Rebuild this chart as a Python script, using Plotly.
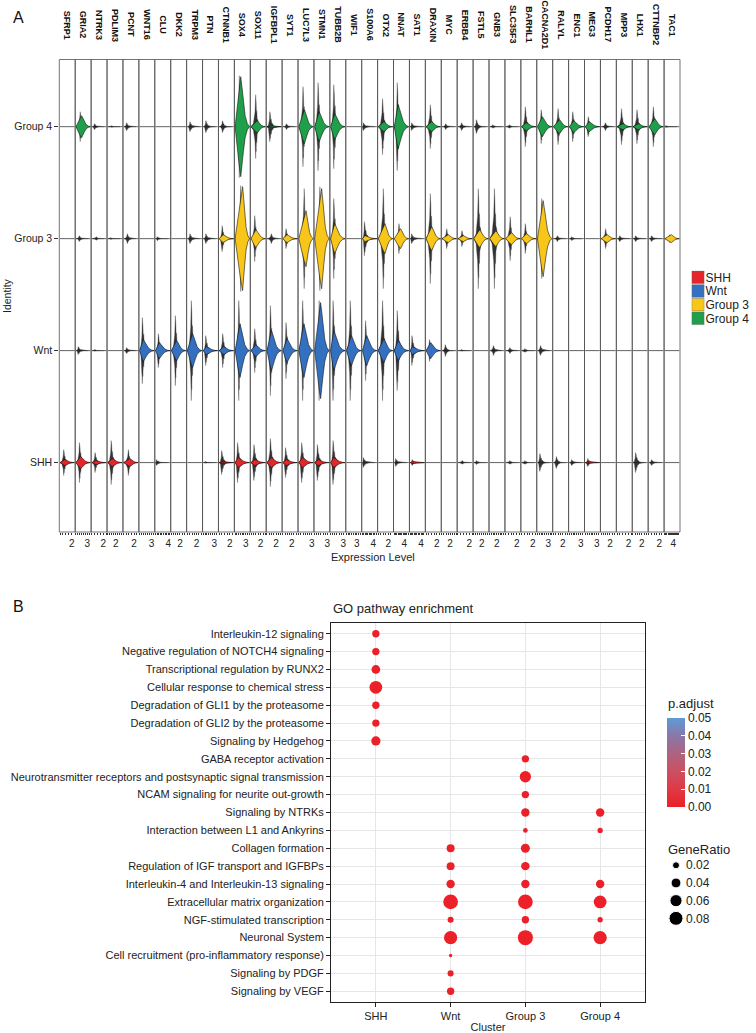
import numpy as np
import plotly.graph_objects as go

W, H = 756, 1033
FONT = "Liberation Sans, Arial, Helvetica, sans-serif"

# ---------------- Panel A data ----------------
genes = ["SFRP1", "GRIA2", "NTRK3", "PDLIM3", "PCNT", "WNT16", "CLU", "DKK2", "TRPM3", "PTN",
         "CTNNB1", "SOX4", "SOX11", "IGFBPL1", "SYT1", "LUC7L3", "STMN1", "TUBB2B", "WIF1", "S100A6",
         "OTX2", "NNAT", "SAT1", "DRAXIN", "MYC", "ERBB4", "FSTL5", "GNB3", "SLC35F3", "BARHL1",
         "CACNA2D1", "RALYL", "ENC1", "MEG3", "PCDH17", "MPP3", "LHX1", "CTTNBP2", "TAC1"]
expr_max = [2.48, 3.82, 2.51, 3.6, 2.78, 3.61, 4.52, 3.4, 3.11, 3.93,
            2.7, 4.1, 3.0, 3.16, 3.28, 3.35, 3.43, 3.43, 4.23, 5.31,
            2.91, 5.73, 5.31, 2.7, 3.6, 2.54, 3.68, 4.18, 2.62, 2.58,
            4.04, 3.11, 3.82, 3.76, 3.28, 2.54, 3.28, 2.78, 6.8]
tick_label = [2, 3, 2, 2, 2, 3, 4, 2, 2, 3, 2, 3, 2, 2, 2, 3, 3, 3, 3, 4,
              2, 4, 4, 2, 2, 2, 2, 2, 2, 2, 3, 2, 3, 3, 2, 2, 2, 2, 4]

groups = ["SHH", "Wnt", "Group 3", "Group 4"]
group_colors = ["#E3262A", "#3470C0", "#F8C519", "#1F9F4A"]

# expression level at the violin's widest point (None = no visible violin)
peak_SHH = [0.84, 1.24, 0.73, 1.13, 1.2, None, 0.27, None, None, 0.45,
            0.61, 0.92, 0.81, 1.0, 0.82, 0.9, 0.86, 0.77, None, 0.32,
            None, 0.53, 0.96, None, None, 0.73, 0.66, None, 0.76, 0.58,
            0.65, 0.62, 0.61, 0.85, None, None, 0.59, 0.5, None]
peak_Wnt = [None, 0.6, 0.45, None, 0.56, 0.9, 1.17, 1.22, 1.12, 0.88,
            0.87, 1.39, 1.02, 1.0, 0.95, 1.2, 1.41, 0.77, 1.44, 1.54,
            1.13, 1.55, 0.85, 0.85, 0.81, 0.6, None, 1.04, 0.76, 0.58,
            0.81, None, None, None, None, None, None, None, None]
peak_G3 = [None, 0.86, 0.75, 0.57, 0.69, None, 0.52, None, 0.56, 0.7,
           0.73, 2.13, 1.02, 0.95, 0.95, 1.68, 1.65, 1.0, None, 0.96,
           1.33, 2.49, 0.5, 1.05, 1.56, 0.94, 1.51, 1.8, 1.08, 0.88,
           1.58, 0.84, 0.61, None, 1.34, 0.46, 0.59, 0.5, 3.1]
peak_G4 = [None, 1.49, 0.45, 0.81, 0.56, None, None, None, 0.56, 0.7,
           0.61, 1.6, 1.29, 0.85, 0.8, 1.31, 1.06, 1.0, None, 0.32,
           1.13, 1.55, 0.5, 1.05, 0.9, 0.63, 0.66, 0.84, 0.65, 0.88,
           1.37, 1.34, 1.18, 1.02, 0.95, 1.04, 1.21, 1.14, 0.4]

# half-width of the coloured violin body
fill_SHH = [3, 6, 2, 4, 4, 0, 0, 0, 0, 0, 1, 5, 3, 5, 3, 5, 3, 5, 0, 0,
            0, 0, 1, 0, 0, 0, 0, 0, 0, 0, 0, 0, 0, 1, 0, 0, 0, 0, 0]
fill_Wnt = [0, 0, 0, 0, 0, 11, 8, 10, 17, 4, 4, 27, 6, 20, 12, 27, 48, 20, 15, 15,
            12, 10, 4, 8, 0, 0, 0, 0, 0, 0, 0, 0, 0, 0, 0, 0, 0, 0, 0]
fill_G3 = [0, 0, 0, 0, 0, 0, 0, 0, 0, 0, 4, 52, 9, 0, 4, 28, 50, 15, 0, 3,
           15, 10, 0, 12, 4, 3, 9, 8, 6, 5, 38, 0, 0, 0, 4, 0, 0, 0, 4]
fill_G4 = [0, 11, 0, 0, 0, 0, 0, 0, 0, 0, 0, 50, 6, 1, 0, 17, 15, 13, 0, 0,
           5, 22, 0, 5, 0, 0, 0, 0, 0, 4, 10, 7, 6, 5, 0, 3, 3, 8, 0]

# half-width of the dark cloud of cell points
hair_SHH = [13, 20, 10, 22, 13, 0, 3, 0, 0, 1, 12, 20, 18, 24, 15, 20, 18, 22, 0, 5,
            0, 4, 3, 0, 0, 2, 2, 0, 2, 2, 9, 6, 3, 4, 0, 0, 10, 3, 0]
hair_Wnt = [0, 4, 1, 0, 3, 33, 17, 35, 50, 15, 17, 50, 22, 45, 28, 50, 50, 50, 50, 30,
            50, 40, 15, 11, 6, 1, 0, 5, 3, 2, 5, 0, 0, 0, 0, 0, 0, 0, 0]
hair_G3 = [0, 3, 2, 1, 5, 0, 2, 0, 5, 5, 13, 53, 23, 5, 10, 50, 52, 40, 0, 17,
           50, 15, 5, 45, 10, 8, 50, 50, 22, 15, 40, 3, 2, 0, 10, 3, 3, 3, 4]
hair_G4 = [0, 15, 3, 1, 4, 0, 0, 0, 5, 6, 6, 51, 32, 15, 3, 40, 44, 42, 0, 4,
           28, 44, 4, 22, 3, 4, 7, 2, 2, 20, 17, 18, 15, 10, 4, 18, 17, 20, 1]

peaks = [peak_SHH, peak_Wnt, peak_G3, peak_G4]
fills = [fill_SHH, fill_Wnt, fill_G3, fill_G4]
hairs = [hair_SHH, hair_Wnt, hair_G3, hair_G4]

# ---------------- Panel B data ----------------
terms = ["Interleukin-12 signaling",
         "Negative regulation of NOTCH4 signaling",
         "Transcriptional regulation by RUNX2",
         "Cellular response to chemical stress",
         "Degradation of GLI1 by the proteasome",
         "Degradation of GLI2 by the proteasome",
         "Signaling by Hedgehog",
         "GABA receptor activation",
         "Neurotransmitter receptors and postsynaptic signal transmission",
         "NCAM signaling for neurite out-growth",
         "Signaling by NTRKs",
         "Interaction between L1 and Ankyrins",
         "Collagen formation",
         "Regulation of IGF transport and IGFBPs",
         "Interleukin-4 and Interleukin-13 signaling",
         "Extracellular matrix organization",
         "NGF-stimulated transcription",
         "Neuronal System",
         "Cell recruitment (pro-inflammatory response)",
         "Signaling by PDGF",
         "Signaling by VEGF"]
clusters = ["SHH", "Wnt", "Group 3", "Group 4"]
ratio_SHH = [0.022, 0.022, 0.031, 0.066, 0.022, 0.022, 0.035] + [None] * 14
ratio_Wnt = [None] * 12 + [0.026, 0.026, 0.029, 0.088, 0.015, 0.072, 0.0045, 0.015, 0.022]
ratio_G3 = [None] * 7 + [0.022, 0.052, 0.022, 0.029, 0.009, 0.033, 0.029, 0.029,
                         0.088, 0.022, 0.092] + [None] * 3
ratio_G4 = [None] * 10 + [0.029, 0.0115, None, None, 0.029, 0.066, 0.0115, 0.072] + [None] * 3
padj_value = 0.0005
ratios = [ratio_SHH, ratio_Wnt, ratio_G3, ratio_G4]
size_legend = [0.02, 0.04, 0.06, 0.08]
padj_ticks = [0.0, 0.01, 0.02, 0.03, 0.04, 0.05]

# ---------------- helpers (pixel layout) ----------------
def px_x(p):
    return p / W

def px_y(p):
    return 1 - p / H

A_LEFT, A_RIGHT, A_TOP, A_BOT = 59.3, 680.0, 59.5, 532.0
COLW = (A_RIGHT - A_LEFT) / len(genes)
ROW_PX = (A_BOT - A_TOP) / (4.6 - 0.38)

# violin outline templates (relative positions / heights)
F_LU, F_LH = [0.0, 0.35, 0.7, 1.0], [0.0, 0.33, 0.75, 1.0]
F_RU, F_RH = [0.0, 0.15, 0.3, 0.5, 0.75, 1.0], [1.0, 0.78, 0.5, 0.22, 0.06, 0.0]
D_LU, D_LH = [0.0, 0.5, 0.85, 1.0], [0.0, 0.1, 0.45, 1.0]
D_RU = [0.0, 0.03, 0.06, 0.1, 0.15, 0.2, 0.28, 0.4, 0.55, 1.0]
D_RH = [1.0, 0.7, 0.78, 0.45, 0.5, 0.25, 0.22, 0.08, 0.03, 0.0]


def outline(x0, xp, x1, half, lu, lh, ru, rh, level):
    xs = [x0 + u * (xp - x0) for u in lu] + [xp + u * (x1 - xp) for u in ru[1:]]
    hs = [h * half / ROW_PX for h in lh] + [h * half / ROW_PX for h in rh[1:]]
    top_x = xs
    top_y = [level + h for h in hs]
    bot_x = xs[::-1]
    bot_y = [level - h for h in hs[::-1]]
    return top_x + bot_x + [None], top_y + bot_y + [None]


fig = go.Figure()
layout = dict()

for gi, g in enumerate(genes):
    m = expr_max[gi]
    ax = "x" if gi == 0 else f"x{gi + 1}"
    # baselines
    lx, ly = [], []
    for k in range(4):
        lx += [0, m, None]
        ly += [k + 1, k + 1, None]
    fig.add_trace(go.Scatter(x=lx, y=ly, xaxis=ax, yaxis="y", mode="lines",
                             line=dict(color="#3a3a3a", width=0.8), hoverinfo="skip"))
    # dark point clouds
    hx, hy = [], []
    for k in range(4):
        p = peaks[k][gi]
        if p is None or hairs[k][gi] <= 0:
            continue
        pd_ = p * (0.75 if fills[k][gi] > 0 else 1.0)
        xs, ys = outline(0, pd_, m * 0.85, hairs[k][gi], D_LU, D_LH, D_RU, D_RH, k + 1)
        hx += xs
        hy += ys
    if hx:
        fig.add_trace(go.Scatter(x=hx, y=hy, xaxis=ax, yaxis="y", mode="lines",
                                 fill="toself", fillcolor="rgba(28,28,28,0.9)",
                                 line=dict(color="rgba(70,70,70,0.7)", width=0.5),
                                 hoverinfo="skip"))
    # coloured violin bodies
    for k in range(4):
        p = peaks[k][gi]
        if p is None or fills[k][gi] <= 0:
            continue
        xs, ys = outline(0, p, m, fills[k][gi], F_LU, F_LH, F_RU, F_RH, k + 1)
        fig.add_trace(go.Scatter(x=xs, y=ys, xaxis=ax, yaxis="y", mode="lines",
                                 fill="toself", fillcolor=group_colors[k],
                                 line=dict(color="#151515", width=0.6), hoverinfo="skip"))
    # axis for this gene column
    x0 = A_LEFT + gi * COLW
    tv = list(np.arange(0, m + 1e-9, 0.5))
    tt = [str(tick_label[gi]) if abs(v - tick_label[gi]) < 1e-6 else "" for v in tv]
    layout["xaxis" if gi == 0 else f"xaxis{gi + 1}"] = dict(
        domain=[px_x(x0), px_x(x0 + COLW)], range=[-0.05 * m, 1.05 * m], anchor="y",
        showgrid=False, zeroline=False, showline=False, tickmode="array", tickvals=tv,
        ticktext=tt, ticks="outside", ticklen=2, tickwidth=0.6, tickcolor="#333",
        tickfont=dict(size=10, color="#222", family=FONT), fixedrange=True)
    fig.add_shape(type="rect", xref=f"{ax} domain", yref="y domain", x0=0, x1=1, y0=0, y1=1,
                  line=dict(color="#505050", width=0.8), layer="above")
    fig.add_annotation(x=px_x(x0 + COLW / 2), y=px_y(25), xref="paper", yref="paper",
                       text=f"<b>{g}</b>", textangle=90, showarrow=False,
                       font=dict(size=9, color="#111", family=FONT),
                       xanchor="center", yanchor="middle")

layout["yaxis"] = dict(domain=[px_y(A_BOT), px_y(A_TOP)], range=[0.38, 4.6], anchor="x",
                       tickmode="array", tickvals=[1, 2, 3, 4], ticktext=groups,
                       ticks="outside", ticklen=4, tickcolor="#333", tickwidth=0.8,
                       showgrid=False, zeroline=False, showline=False,
                       tickfont=dict(size=10.5, color="#222", family=FONT))

# legend A (squares)
fig.add_trace(go.Scatter(x=[0] * 4, y=groups, xaxis="x42", yaxis="y42", mode="markers",
                         marker=dict(symbol="square", size=12.5, color=group_colors, opacity=1,
                                     line=dict(color="#666", width=0.5)), hoverinfo="skip"))
layout["xaxis42"] = dict(domain=[px_x(691.5), px_x(704.5)], range=[-1, 1], visible=False,
                         anchor="y42")
layout["yaxis42"] = dict(domain=[px_y(325.2), px_y(270.5)], type="category",
                         categoryarray=groups, tickmode="array", tickvals=groups,
                         range=[3.5, -0.5], side="right", anchor="x42",
                         showgrid=False, zeroline=False, showline=False, ticks="",
                         tickfont=dict(size=12, color="#222", family=FONT))

# ---------------- Panel B ----------------
SIZEREF = 2 * 0.08 / (14 ** 2)
bx, by, bs = [], [], []
for ci, c in enumerate(clusters):
    for ti, t in enumerate(terms):
        r = ratios[ci][ti]
        if r is None:
            continue
        bx.append(c)
        by.append(t)
        bs.append(r)
colorscale = [[0.0, "#EC1F26"], [0.2, "#DE3A45"], [0.4, "#CB5062"], [0.6, "#AE6380"],
              [0.8, "#8878A8"], [1.0, "#5F9BD5"]]
fig.add_trace(go.Scatter(
    x=bx, y=by, xaxis="x40", yaxis="y40", mode="markers",
    marker=dict(size=bs, sizemode="area", sizeref=SIZEREF, color=[padj_value] * len(bs),
                colorscale=colorscale, cmin=0, cmax=0.05, line=dict(width=0), opacity=1,
                showscale=True,
                colorbar=dict(x=px_x(666.5), xanchor="left", y=px_y(762.5), yanchor="middle",
                              lenmode="pixels", len=89, thickness=18, thicknessmode="pixels",
                              xpad=0, ypad=0, outlinewidth=0, tickmode="array",
                              tickvals=padj_ticks,
                              ticktext=[f"{v:.2f}" for v in padj_ticks],
                              ticks="inside", ticklen=4, tickcolor="white", tickwidth=1,
                              tickfont=dict(size=12, color="#222", family=FONT))),
    hoverinfo="skip"))
layout["xaxis40"] = dict(domain=[px_x(331), px_x(645)], type="category",
                         categoryarray=clusters, range=[-0.6, 3.6], anchor="y40",
                         showgrid=True, gridcolor="#e6e6e6", gridwidth=1, zeroline=False,
                         showline=True, mirror=True, linecolor="#222", linewidth=1,
                         ticks="outside", ticklen=4, tickcolor="#222",
                         tickfont=dict(size=11, color="#222", family=FONT),
                         title=dict(text="Cluster", font=dict(size=11, color="#222", family=FONT),
                                    standoff=2))
layout["yaxis40"] = dict(domain=[px_y(1002), px_y(623)], type="category",
                         categoryarray=terms, tickmode="array", tickvals=terms,
                         range=[len(terms) - 0.4, -0.6], anchor="x40",
                         showgrid=True, gridcolor="#e6e6e6", gridwidth=1, zeroline=False,
                         showline=True, mirror=True, linecolor="#222", linewidth=1,
                         ticks="outside", ticklen=4, tickcolor="#222",
                         tickfont=dict(size=11, color="#222", family=FONT))

# GeneRatio legend
size_labels = [f"{v:.2f}" for v in size_legend]
fig.add_trace(go.Scatter(x=[0] * 4, y=size_labels, xaxis="x41", yaxis="y41", mode="markers",
                         marker=dict(size=size_legend, sizemode="area", sizeref=SIZEREF,
                                     color="black", opacity=1), hoverinfo="skip"))
layout["xaxis41"] = dict(domain=[px_x(667), px_x(685)], range=[-1, 1], visible=False,
                         anchor="y41")
layout["yaxis41"] = dict(domain=[px_y(927.2), px_y(856.4)], type="category",
                         categoryarray=size_labels, tickmode="array", tickvals=size_labels,
                         range=[3.5, -0.5], side="right", anchor="x41", showgrid=False,
                         zeroline=False, showline=False, ticks="",
                         tickfont=dict(size=12, color="#222", family=FONT))

# ---------------- text ----------------
def ann(x, y, text, size, angle=0, xa="center", ya="middle", color="#111"):
    fig.add_annotation(x=px_x(x), y=px_y(y), xref="paper", yref="paper", text=text,
                       showarrow=False, textangle=angle, xanchor=xa, yanchor=ya,
                       font=dict(size=size, color=color, family=FONT))

ann(11, 17, "A", 16, xa="left")
ann(11, 606, "B", 16, xa="left")
ann(7, 296, "Identity", 10.5, angle=-90, color="#222")
ann(373, 557, "Expression Level", 11, color="#222")
ann(331, 608, "GO pathway enrichment", 13, xa="left", color="#222")
ann(666, 703, "p.adjust", 13, xa="left", color="#222")
ann(666, 849, "GeneRatio", 13, xa="left", color="#222")

fig.update_layout(width=W, height=H, margin=dict(l=0, r=0, t=0, b=0),
                  paper_bgcolor="white", plot_bgcolor="white", showlegend=False,
                  font=dict(family=FONT), **layout)

fig.write_html("out.html", config={"displayModeBar": False},
               post_script="document.body.style.margin='0px';document.body.style.overflow='hidden';")
